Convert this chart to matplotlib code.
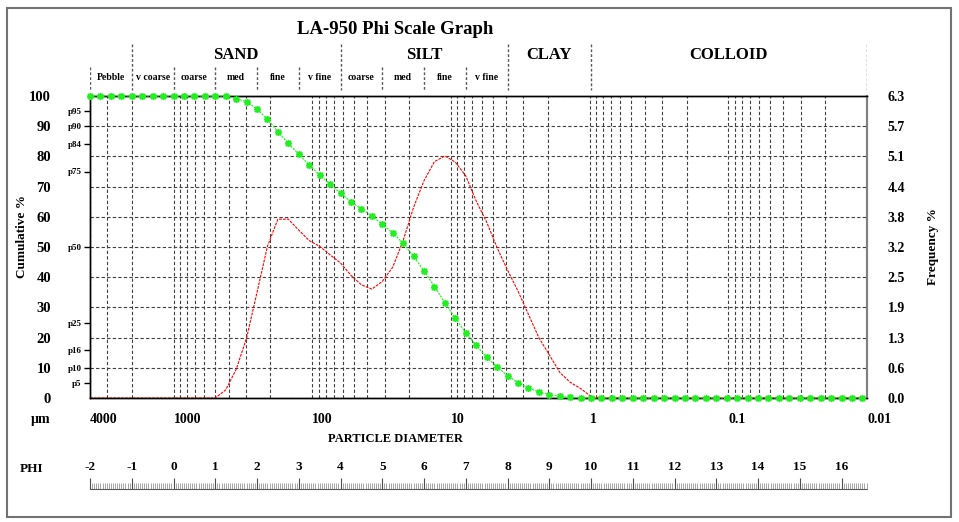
import matplotlib
matplotlib.use("Agg")
import matplotlib.pyplot as plt
import numpy as np
from matplotlib.ticker import FixedLocator, LogLocator, NullFormatter, FixedFormatter, MultipleLocator
from matplotlib.patches import Rectangle

plt.rcParams['font.family'] = ['Liberation Serif', 'DejaVu Serif']
plt.rcParams['font.weight'] = 'bold'

# ---------------- data ----------------
# size classes: quarter-phi steps from -2 phi (4000 um) to 16.5 phi
phi_classes = np.arange(-2.0, 16.51, 0.25)
size_um = 1000.0 * 2.0 ** (-phi_classes)

cumulative = [100] * 14 + [
    99.1, 98.1, 95.7, 92.3, 88.2, 84.3, 80.7, 77.2, 73.8, 70.8, 67.8,
    65.0, 62.6, 60.3, 57.5, 54.7, 51.2, 46.9, 42.1, 36.9, 31.5, 26.4,
    21.6, 17.4, 13.5, 10.3, 7.4, 5.1, 3.3, 2.0, 1.1, 0.6, 0.2] + [0] * 28

frequency = [0] * 13 + [
    0.17, 0.60, 1.26, 2.22, 3.19, 3.76, 3.76, 3.53, 3.31, 3.19, 3.01, 2.84,
    2.58, 2.38, 2.29, 2.45, 2.75, 3.31, 4.01, 4.57, 4.97, 5.09, 4.96, 4.67,
    4.14, 3.70, 3.16, 2.69, 2.25, 1.76, 1.27, 0.91, 0.54, 0.33, 0.20, 0.03] + [0] * 26

um_ticks = [4000, 1000, 100, 10, 1, 0.1, 0.01]
um_labels = ['4000', '1000', '100', '10', '1', '0.1', '0.01']
cum_ticks = list(range(0, 101, 10))
p_ticks = [5, 10, 16, 25, 50, 75, 84, 90, 95]
p_labels = ['p5', 'p10', 'p16', 'p25', 'p50', 'p75', 'p84', 'p90', 'p95']
freq_max = 6.35
freq_labels = ['0.0', '0.6', '1.3', '1.9', '2.5', '3.2', '3.8', '4.4', '5.1', '5.7', '6.3']
phi_ticks = list(range(-2, 17))

# header classes (phi boundaries)
major_bounds = [-1, 4, 8, 10, 16.61]
minor_bounds = [-2, 0, 1, 2, 3, 5, 6, 7]
major_names = ['SAND', 'SILT', 'CLAY', 'COLLOID']
major_centers = [1.5, 6.0, 9.0, 13.3]
sub_names = ['Pebble', 'v coarse', 'coarse', 'med', 'fine', 'v fine',
             'coarse', 'med', 'fine', 'v fine']
sub_centers = [-1.5, -0.5, 0.5, 1.5, 2.5, 3.5, 4.5, 5.5, 6.5, 7.5]

# ---------------- layout ----------------
W, H = 959, 522
fig = plt.figure(figsize=(W / 100, H / 100), dpi=100)
fx = lambda p: p / W
fy = lambda p: 1 - p / H

L, R, T, B = 90, 867, 96, 398
axL, axW = fx(L), fx(R) - fx(L)

ax2 = fig.add_axes([axL, fy(B), axW, fy(T) - fy(B)])
ax2.set_xscale('log')
ax2.set_xlim(4000, 0.01)
ax2.set_ylim(0, freq_max)
ax = ax2.twinx()
ax.set_ylim(0, 100)
ax.set_zorder(ax2.get_zorder() + 1)
ax.patch.set_visible(False)

gridkw = dict(color='0.25', linestyle=(0, (3, 2)), linewidth=0.8)

# x axis
ax2.xaxis.set_major_locator(FixedLocator(um_ticks))
ax2.xaxis.set_major_formatter(FixedFormatter(um_labels))
ax2.xaxis.set_minor_locator(LogLocator(base=10, subs=np.arange(1, 10), numticks=100))
ax2.xaxis.set_minor_formatter(NullFormatter())
ax2.tick_params(axis='x', which='both', length=0, pad=11, labelsize=10)
for lab in ax2.get_xticklabels():
    lab.set_horizontalalignment('left')
ax2.grid(True, axis='x', which='both', **gridkw)

# right (frequency) axis
ax2.yaxis.tick_right()
ax2.yaxis.set_label_position('right')
ax2.set_yticks(np.linspace(0, freq_max, 11))
ax2.set_yticklabels(freq_labels)
ax2.tick_params(axis='y', length=0, pad=15, labelsize=10)
ax2.grid(True, axis='y', which='major', **gridkw)

# left (cumulative) axis
ax.yaxis.tick_left()
ax.set_yticks(cum_ticks)
ax.set_yticklabels([str(v) for v in cum_ticks])
ax.yaxis.set_minor_locator(FixedLocator(p_ticks))
ax.yaxis.set_minor_formatter(FixedFormatter(p_labels))
ax.yaxis.remove_overlapping_locs = False
ax.tick_params(axis='y', which='major', length=0, pad=28, labelsize=10.5)
ax.tick_params(axis='y', which='minor', length=4, width=1, pad=2, labelsize=6.5)

for a in (ax, ax2):
    for s in ('left', 'bottom', 'top'):
        a.spines[s].set_color('black')
        a.spines[s].set_linewidth(1.0)
    a.spines['right'].set_color('0.5')
    a.spines['right'].set_linewidth(1.5)

# series
ax2.plot(size_um, frequency, color='red', linewidth=0.8,
         linestyle=(0, (2.5, 1)), zorder=3)
ax.plot(size_um, cumulative, color='#22ee22', linewidth=0.8,
        linestyle=(0, (2, 1)), marker=(8, 2, 0), markersize=5,
        markeredgewidth=1.1, zorder=4, clip_on=False)

# ---------------- header ----------------
axh = fig.add_axes([axL, fy(96), axW, fy(40) - fy(96)])
axh.set_xlim(-2, 16.61)
axh.set_ylim(96, 40)
axh.axis('off')
divkw = dict(color='0.35', linestyle=(0, (2, 1.5)), linewidth=1.0)
axh.vlines(major_bounds, 44, 90, **divkw)
axh.vlines(minor_bounds, 67, 90, **divkw)
for name, c in zip(major_names, major_centers):
    axh.text(c, 55, name, ha='center', va='center', fontsize=12, fontweight='bold')
for name, c in zip(sub_names, sub_centers):
    axh.text(c, 77, name, ha='center', va='center', fontsize=7, fontweight='bold')

# ---------------- phi ruler ----------------
axp = fig.add_axes([axL, fy(489), axW, fy(477) - fy(489)])
axp.set_xlim(-2, 16.61)
axp.set_yticks([])
for s in ('left', 'right', 'top'):
    axp.spines[s].set_visible(False)
axp.spines['bottom'].set_linestyle((0, (1, 1)))
axp.spines['bottom'].set_color('0.35')
axp.spines['bottom'].set_linewidth(0.8)
axp.patch.set_visible(False)
axp.xaxis.set_major_locator(FixedLocator(phi_ticks))
axp.xaxis.set_major_formatter(FixedFormatter([str(v) for v in phi_ticks]))
axp.xaxis.set_minor_locator(MultipleLocator(0.05))
axp.tick_params(axis='x', which='major', direction='in', length=8, width=0.8,
                color='0.3', bottom=True, top=False, labelbottom=False,
                labeltop=True, pad=3, labelsize=9.5)
axp.tick_params(axis='x', which='minor', direction='in', length=4.5, width=0.45,
                color='0.45', bottom=True, top=False)

# ---------------- texts ----------------
fig.text(fx(395), fy(30), 'LA-950 Phi Scale Graph', ha='center', va='center',
         fontsize=13.5, fontweight='bold')
fig.text(fx(395), fy(439), 'PARTICLE DIAMETER', ha='center', va='center',
         fontsize=9, fontweight='bold')
fig.text(fx(41), fy(419), 'µm', ha='center', va='center', fontsize=10, fontweight='bold')
fig.text(fx(31), fy(469), 'PHI', ha='center', va='center', fontsize=9.5, fontweight='bold')
fig.text(fx(22), fy(236), 'Cumulative %', rotation=90, ha='center', va='center',
         fontsize=9.5, fontweight='bold')
fig.text(fx(933), fy(247), 'Frequency %', rotation=90, ha='center', va='center',
         fontsize=9.5, fontweight='bold')

fig.add_artist(Rectangle((fx(7), fy(517)), fx(951) - fx(7), fy(8) - fy(517),
                         transform=fig.transFigure, fill=False,
                         edgecolor='0.45', linewidth=1.5))

fig.savefig('out.png', dpi=100)
